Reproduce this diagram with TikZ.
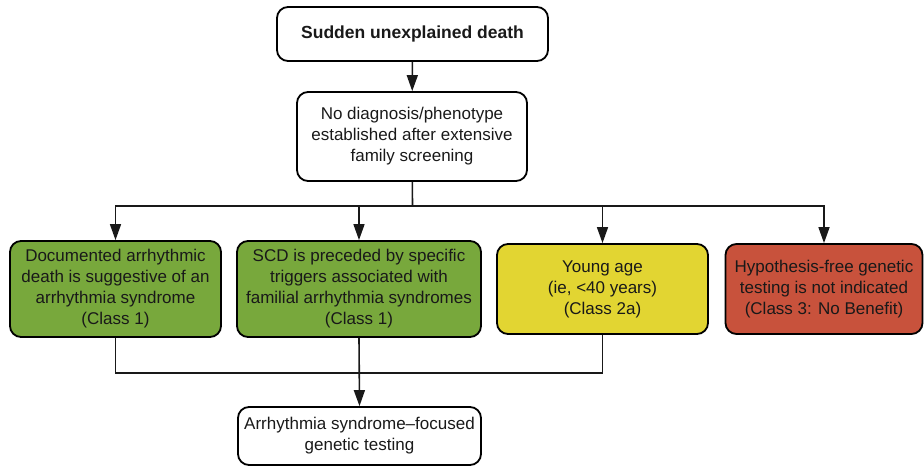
\documentclass[tikz,border=0pt]{standalone}
\usepackage{fontspec}
\setmainfont{Liberation Sans}
\usetikzlibrary{arrows.meta}
\definecolor{cgreen}{RGB}{120,168,60}
\definecolor{cyellow}{RGB}{226,213,50}
\definecolor{cred}{RGB}{200,82,60}
\begin{document}
\begin{tikzpicture}[x=1pt,y=-1pt,
  box/.style={draw=black,line width=1.8pt,rounded corners=11pt,align=center,
    inner sep=0pt,font=\fontsize{17}{21}\selectfont,text=black!90},
  conn/.style={line width=1.6pt,draw=black!90},
  arr/.style={conn,-{Triangle[length=16pt,width=11pt]}}]
\useasboundingbox (0,0) rectangle (924,466);
\node[box,minimum width=271pt,minimum height=54pt,font=\fontsize{17.5}{21}\selectfont\bfseries] (top) at (412.5,34) {Sudden unexplained death};
\node[box,minimum width=230pt,minimum height=89pt] (nodiag) at (412,136.5) {No diagnosis/phenotype\\established after extensive\\family screening};
\node[box,fill=cgreen,minimum width=211pt,minimum height=96pt] (g1) at (115.5,289) {Documented arrhythmic\\death is suggestive of an\\arrhythmia syndrome\\(Class 1)};
\node[box,fill=cgreen,minimum width=244pt,minimum height=96pt] (g2) at (359,289) {SCD is preceded by specific\\triggers associated with\\familial arrhythmia syndromes\\(Class 1)};
\node[box,fill=cyellow,minimum width=211pt,minimum height=90pt] (yel) at (602.5,289) {Young age\\(ie, <40 years)\\(Class 2a)};
\node[box,fill=cred,minimum width=197pt,minimum height=90pt] (red) at (824,289) {Hypothesis-free genetic\\testing is not indicated\\(Class 3: No Benefit)};
\node[box,minimum width=243pt,minimum height=58pt] (bot) at (359.5,436) {Arrhythmia syndrome–focused\\genetic testing};
\coordinate (split) at (412.5,206);
\coordinate (merge) at (359,373);
\draw[arr] (top) -- (nodiag);
\draw[conn] (nodiag) -- (split);
\draw[arr] (split) -| (g1.north);
\draw[arr] (split) -| (g2.north);
\draw[arr] (split) -| (yel.north);
\draw[arr] (split) -| (red.north);
\draw[conn] (g1.south) |- (merge);
\draw[conn] (yel.south) |- (merge);
\draw[arr] (g2.south) -- (bot.north);
\end{tikzpicture}
\end{document}
